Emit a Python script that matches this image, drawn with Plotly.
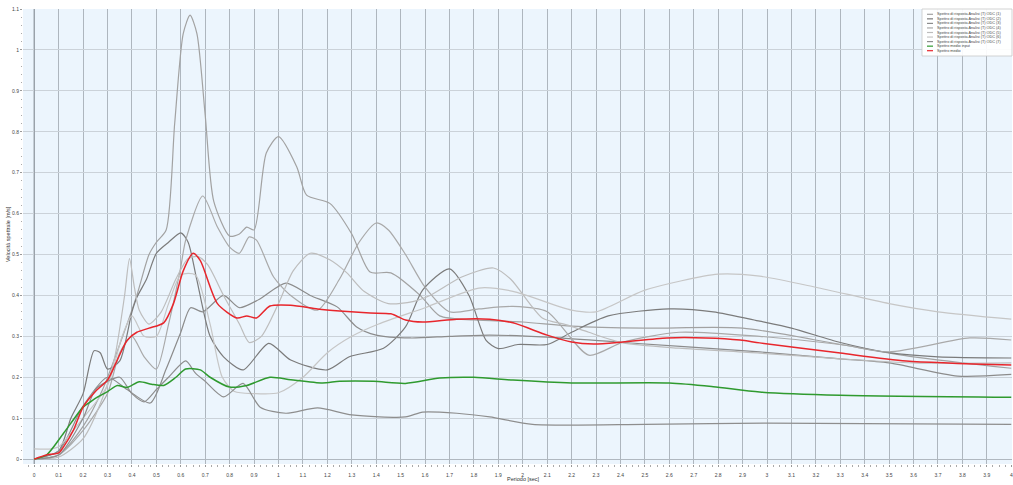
import plotly.graph_objects as go

# ---------------- data ----------------
legend_names = [
    "Spettro di risposta Analisi (T) ODC (1)",
    "Spettro di risposta Analisi (T) ODC (2)",
    "Spettro di risposta Analisi (T) ODC (3)",
    "Spettro di risposta Analisi (T) ODC (4)",
    "Spettro di risposta Analisi (T) ODC (5)",
    "Spettro di risposta Analisi (T) ODC (6)",
    "Spettro di risposta Analisi (T) ODC (7)",
    "Spettro medio input",
    "Spettro medio",
]

c1_t = [0, 0.1, 0.2, 0.28, 0.35, 0.42, 0.47, 0.5, 0.54, 0.575, 0.61, 0.638, 0.666, 0.70, 0.735, 0.8, 0.84, 0.87,
        0.9, 0.95, 1.0, 1.075, 1.115, 1.21, 1.3, 1.375, 1.46, 1.58, 1.66, 1.8, 2.0, 2.2, 2.5, 2.9, 3.3, 3.6, 4.0]
c1_v = [0, 0.01, 0.08, 0.17, 0.28, 0.4, 0.5, 0.53, 0.56, 0.82, 1.04, 1.085, 1.04, 0.84, 0.63, 0.545, 0.55, 0.567,
        0.56, 0.748, 0.788, 0.714, 0.645, 0.625, 0.55, 0.457, 0.455, 0.40, 0.35, 0.34, 0.335, 0.325, 0.32, 0.32,
        0.28, 0.25, 0.222]

c2_t = [0, 0.1, 0.15, 0.2, 0.245, 0.27, 0.3, 0.35, 0.4, 0.42, 0.46, 0.5, 0.55, 0.6, 0.63, 0.665, 0.72, 0.775, 0.855,
        0.96, 1.05, 1.2, 1.29, 1.43, 1.52, 1.59, 1.7, 1.78, 1.85, 1.9, 1.98, 2.1, 2.2, 2.35, 2.6, 2.78, 2.97, 3.1,
        3.3, 3.5, 3.7, 4.0]
c2_v = [0, 0.02, 0.1, 0.16, 0.265, 0.26, 0.22, 0.24, 0.36, 0.395, 0.44, 0.503, 0.53, 0.553, 0.53, 0.44, 0.3, 0.25,
        0.218, 0.283, 0.242, 0.218, 0.25, 0.271, 0.323, 0.413, 0.465, 0.40, 0.29, 0.27, 0.28, 0.28, 0.31, 0.35,
        0.367, 0.36, 0.337, 0.32, 0.285, 0.26, 0.25, 0.247]

c3_t = [0, 0.1, 0.2, 0.3, 0.38, 0.475, 0.54, 0.6, 0.64, 0.69, 0.775, 0.84, 0.92, 1.03, 1.13, 1.24, 1.32, 1.4, 1.54,
        1.7, 1.865, 2.1, 2.41, 2.97, 3.3, 3.5, 3.78, 4.0]
c3_v = [0, 0.02, 0.13, 0.2, 0.17, 0.137, 0.22, 0.31, 0.37, 0.36, 0.4, 0.37, 0.39, 0.43, 0.40, 0.372, 0.323, 0.303,
        0.296, 0.3, 0.303, 0.298, 0.285, 0.262, 0.245, 0.235, 0.203, 0.207]

c4_t = [0, 0.1, 0.2, 0.3, 0.35, 0.4, 0.45, 0.5, 0.55, 0.6, 0.62, 0.69, 0.75, 0.8, 0.84, 0.88, 0.91, 0.98, 1.05,
        1.16, 1.25, 1.33, 1.4, 1.45, 1.52, 1.6, 1.7, 1.82, 1.96, 2.1, 2.27, 2.41, 2.64, 2.97, 3.3, 3.5, 3.83, 4.0]
c4_v = [0, 0.01, 0.07, 0.16, 0.26, 0.3, 0.25, 0.22, 0.33, 0.47, 0.535, 0.643, 0.567, 0.518, 0.503, 0.543, 0.535,
        0.445, 0.4, 0.364, 0.44, 0.53, 0.577, 0.56, 0.5, 0.42, 0.36, 0.367, 0.373, 0.36, 0.254, 0.286, 0.31, 0.3,
        0.28, 0.262, 0.296, 0.291]

c5_t = [0, 0.1, 0.2, 0.28, 0.33, 0.37, 0.39, 0.41, 0.43, 0.47, 0.52, 0.58, 0.63, 0.67, 0.71, 0.775, 0.84, 0.88,
        0.93, 1.0, 1.06, 1.13, 1.21, 1.28, 1.35, 1.45, 1.55, 1.62, 1.75, 1.88, 1.95, 2.08, 2.18, 2.27, 2.41, 2.64,
        2.97, 3.3, 3.6, 4.0]
c5_v = [0, 0.005, 0.05, 0.15, 0.25, 0.4, 0.49, 0.42, 0.364, 0.33, 0.36, 0.44, 0.49, 0.495, 0.475, 0.4, 0.33, 0.285,
        0.3, 0.38, 0.46, 0.503, 0.487, 0.455, 0.41, 0.38, 0.385, 0.40, 0.445, 0.467, 0.44, 0.345, 0.328, 0.31,
        0.284, 0.271, 0.259, 0.245, 0.235, 0.235]

c6_t = [0, 0.07, 0.1, 0.2, 0.3, 0.36, 0.4, 0.45, 0.5, 0.55, 0.6, 0.66, 0.72, 0.77, 0.82, 0.9, 1.0, 1.1, 1.2, 1.3,
        1.41, 1.6, 1.82, 1.96, 2.2, 2.3, 2.5, 2.8, 2.97, 3.2, 3.5, 3.7, 4.0]
c6_v = [0.025, 0.025, 0.03, 0.1, 0.18, 0.3, 0.35, 0.3, 0.3, 0.38, 0.45, 0.45, 0.33, 0.2, 0.165, 0.16, 0.162, 0.2,
        0.26, 0.3, 0.33, 0.37, 0.418, 0.41, 0.364, 0.36, 0.413, 0.452, 0.447, 0.42, 0.38, 0.36, 0.342]

c7_t = [0, 0.1, 0.2, 0.25, 0.3, 0.35, 0.4, 0.45, 0.5, 0.55, 0.62, 0.66, 0.7, 0.775, 0.855, 0.925, 1.03, 1.16, 1.3,
        1.52, 1.59, 1.73, 1.865, 2.04, 2.5, 3.0, 4.0]
c7_v = [0, 0.01, 0.1, 0.17, 0.19, 0.2, 0.16, 0.14, 0.17, 0.2, 0.24, 0.21, 0.19, 0.152, 0.185, 0.127, 0.112, 0.125,
        0.108, 0.103, 0.115, 0.112, 0.103, 0.085, 0.085, 0.088, 0.085]

green_t = [0, 0.05, 0.12, 0.2, 0.23, 0.26, 0.3, 0.34, 0.38, 0.43, 0.48, 0.53, 0.58, 0.62, 0.68, 0.72, 0.8, 0.87,
           0.965, 1.05, 1.18, 1.25, 1.39, 1.52, 1.66, 1.8, 1.96, 2.2, 2.6, 2.78, 2.97, 3.3, 4.0]
green_v = [0, 0.01, 0.063, 0.127, 0.14, 0.152, 0.165, 0.18, 0.175, 0.189, 0.183, 0.18, 0.2, 0.22, 0.218, 0.2,
           0.176, 0.18, 0.2, 0.194, 0.186, 0.19, 0.19, 0.185, 0.198, 0.2, 0.193, 0.186, 0.186, 0.177, 0.164, 0.156,
           0.151]

red_t = [0, 0.05, 0.1, 0.12, 0.16, 0.2, 0.255, 0.3, 0.34, 0.38, 0.42, 0.47, 0.53, 0.57, 0.61, 0.65, 0.68, 0.75,
         0.83, 0.87, 0.91, 0.965, 1.05, 1.16, 1.25, 1.375, 1.46, 1.52, 1.59, 1.73, 1.865, 1.96, 2.1, 2.2, 2.29, 2.41,
         2.59, 2.75, 2.89, 2.97, 3.3, 3.57, 4.0]
red_v = [0, 0.01, 0.015, 0.03, 0.07, 0.127, 0.168, 0.193, 0.242, 0.29, 0.31, 0.32, 0.333, 0.38, 0.46, 0.503, 0.485,
         0.38, 0.345, 0.35, 0.345, 0.374, 0.376, 0.367, 0.362, 0.357, 0.355, 0.34, 0.335, 0.342, 0.342, 0.333, 0.303,
         0.286, 0.281, 0.286, 0.296, 0.296, 0.291, 0.284, 0.259, 0.24, 0.23]

x_title = "Periodo [sec]"
y_title = "Velocità spettrale [m/s]"

# ---------------- styles ----------------
series = [
    (c1_t, c1_v, "#a2a2a2"),
    (c2_t, c2_v, "#7b7b7b"),
    (c3_t, c3_v, "#8c8c8c"),
    (c4_t, c4_v, "#a9a9a9"),
    (c5_t, c5_v, "#bdbdbd"),
    (c6_t, c6_v, "#c6c6c6"),
    (c7_t, c7_v, "#8e8e8e"),
    (green_t, green_v, "#2f9a2f"),
    (red_t, red_v, "#e8262c"),
]

fig = go.Figure()
for (t, v, col), name in zip(series, legend_names):
    w = 1.5 if col in ("#2f9a2f", "#e8262c") else 1.2
    fig.add_trace(go.Scatter(x=t, y=v, mode="lines", name=name, showlegend=False,
                             line=dict(color=col, width=w, shape="spline", smoothing=0.7),
                             hoverinfo="skip"))

W, H = 1013, 485
ML, MR, MT, MB = 23, 1, 9, 21
pw, ph = W - ML - MR, H - MT - MB

def px2paper(px, py):
    return (px - ML) / pw, (H - MB - py) / ph

tickfont = dict(family="Liberation Sans, Arial, sans-serif", size=5, color="#444")
fig.update_layout(
    width=W, height=H,
    margin=dict(l=ML, r=MR, t=MT, b=MB, pad=0, autoexpand=False),
    paper_bgcolor="white",
    plot_bgcolor="#ecf5fd",
    xaxis=dict(range=[-0.046, 4.003], dtick=0.1, tick0=0, showgrid=True, gridcolor="#aeb6be", gridwidth=1,
               zeroline=True, zerolinecolor="#9aa2aa", zerolinewidth=1, automargin=False,
               ticks="outside", ticklen=2, tickcolor="#999", tickfont=tickfont,
               minor=dict(dtick=0.025, ticks="outside", ticklen=1.5, tickcolor="#aaa", showgrid=False),
               showline=False, ticklabelstandoff=4),
    yaxis=dict(range=[-0.012, 1.1], dtick=0.1, tick0=0, showgrid=True, gridcolor="#cbd2d9", gridwidth=1,
               zeroline=True, zerolinecolor="#b0b8c0", zerolinewidth=1, automargin=False,
               ticks="outside", ticklen=2, tickcolor="#999", tickfont=tickfont,
               minor=dict(dtick=0.02, ticks="outside", ticklen=1.5, tickcolor="#aaa", showgrid=False),
               showline=False),
    font=dict(family="Liberation Sans, Arial, sans-serif"),
)

# y-axis line at T=0
fig.add_shape(type="line", xref="x", yref="paper", x0=0, x1=0, y0=0, y1=1,
              line=dict(color="#8e969e", width=1.3), layer="below")

# axis titles
ax, ay = px2paper(523, 479)
fig.add_annotation(text=x_title, xref="paper", yref="paper", x=ax, y=ay, showarrow=False,
                   font=dict(size=5.5, color="#333"), xanchor="center", yanchor="middle")
ax, ay = px2paper(8, 234)
fig.add_annotation(text=y_title, xref="paper", yref="paper", x=ax, y=ay, showarrow=False, textangle=-90,
                   font=dict(size=5.5, color="#333"), xanchor="center", yanchor="middle")

# legend box (custom, small like the reference)
bx0, by0 = px2paper(922, 9)
bx1, by1 = px2paper(1012, 56)
fig.add_shape(type="rect", xref="paper", yref="paper", x0=bx0, x1=bx1, y0=by1, y1=by0,
              fillcolor="rgba(255,255,255,0.92)", line=dict(color="#c8c8c8", width=0.8))
for i, ((t, v, col), name) in enumerate(zip(series, legend_names)):
    rowy = 14.3 + i * 4.55
    lx0, ly = px2paper(927, rowy)
    lx1, _ = px2paper(933, rowy)
    fig.add_shape(type="line", xref="paper", yref="paper", x0=lx0, x1=lx1, y0=ly, y1=ly,
                  line=dict(color=col, width=1.2))
    tx, ty = px2paper(934.5, rowy)
    fig.add_annotation(text=name, xref="paper", yref="paper", x=tx, y=ty, showarrow=False,
                       xanchor="left", yanchor="middle", font=dict(size=3.8, color="#444"))

# remove the browser's default page margin so the figure sits at the window's top-left corner
fig.write_html("out.html", config={"displayModeBar": False},
               post_script="document.body.style.margin='0';document.body.style.overflow='hidden';")
